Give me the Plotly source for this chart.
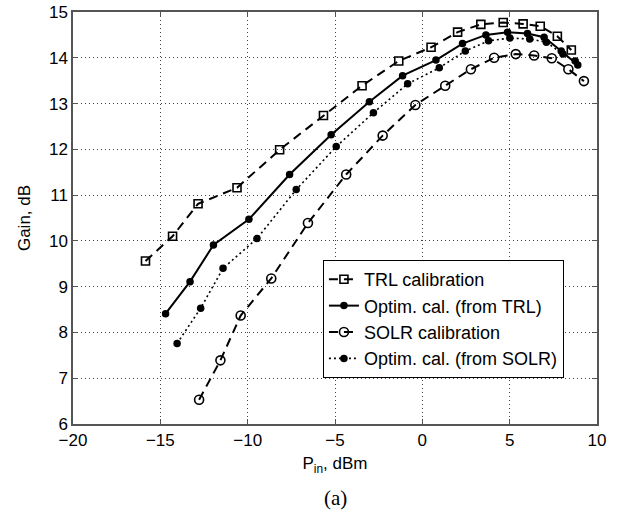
import plotly.graph_objects as go

# TRL calibration
trl_x = [-15.85, -14.3, -12.84, -10.61, -8.17, -5.66, -3.45, -1.35, 0.5, 2.02, 3.35, 4.63, 5.77, 6.75, 7.73, 8.53]
trl_y = [9.56, 10.10, 10.81, 11.16, 11.99, 12.74, 13.39, 13.93, 14.23, 14.56, 14.73, 14.77, 14.74, 14.69, 14.47, 14.17]

# Optim. cal. (from TRL)
otrl_x = [-14.7, -13.3, -11.96, -9.93, -7.6, -5.22, -3.03, -1.13, 0.78, 2.3, 3.64, 4.88, 6.02, 6.97, 7.95, 8.9]
otrl_y = [8.41, 9.11, 9.91, 10.47, 11.45, 12.32, 13.04, 13.61, 13.95, 14.31, 14.50, 14.56, 14.53, 14.45, 14.15, 13.84]

# SOLR calibration
solr_x = [-12.78, -11.56, -10.4, -8.65, -6.55, -4.36, -2.27, -0.4, 1.31, 2.78, 4.11, 5.35, 6.4, 7.41, 8.36, 9.25]
solr_y = [6.53, 7.39, 8.37, 9.18, 10.39, 11.45, 12.30, 12.97, 13.39, 13.75, 14.00, 14.08, 14.05, 13.99, 13.75, 13.49]

# Optim. cal. (from SOLR)
osolr_x = [-14.04, -12.69, -11.41, -9.47, -7.22, -4.93, -2.8, -0.84, 0.97, 2.46, 3.79, 5.01, 6.15, 7.1, 8.05, 8.75]
osolr_y = [7.76, 8.53, 9.40, 10.05, 11.12, 12.06, 12.80, 13.43, 13.78, 14.15, 14.37, 14.43, 14.41, 14.34, 14.08, 13.93]

x_ticks = [-20, -15, -10, -5, 0, 5, 10]
y_ticks = [6, 7, 8, 9, 10, 11, 12, 13, 14, 15]

FONT = "Liberation Sans, Arial, Helvetica, sans-serif"

fig = go.Figure()
fig.add_trace(go.Scatter(
    x=trl_x, y=trl_y, name="TRL calibration", mode="lines+markers",
    line=dict(color="black", width=2, dash="9px,6px"),
    marker=dict(symbol="square-open", size=8, color="black", line=dict(width=1.6)),
))
fig.add_trace(go.Scatter(
    x=otrl_x, y=otrl_y, name="Optim. cal. (from TRL)", mode="lines+markers",
    line=dict(color="black", width=2),
    marker=dict(symbol="circle", size=7.5, color="black"),
))
fig.add_trace(go.Scatter(
    x=solr_x, y=solr_y, name="SOLR calibration", mode="lines+markers",
    line=dict(color="black", width=2, dash="9px,6px"),
    marker=dict(symbol="circle-open", size=9, color="black", line=dict(width=1.6)),
))
fig.add_trace(go.Scatter(
    x=osolr_x, y=osolr_y, name="Optim. cal. (from SOLR)", mode="lines+markers",
    line=dict(color="black", width=1.6, dash="2px,3px"),
    marker=dict(symbol="circle", size=7.5, color="black"),
))

axis_common = dict(
    showline=True, linecolor="#555", linewidth=1.5, mirror="allticks",
    ticks="inside", ticklen=5, tickcolor="#555",
    showgrid=True, gridcolor="#444", griddash="1px,3px", gridwidth=1,
    zeroline=False, automargin=False,
    tickfont=dict(family=FONT, size=17, color="black"),
)

fig.update_xaxes(range=[-20, 10], tickvals=x_ticks, ticktext=[str(v).replace("-", "\u2212") for v in x_ticks],
                 title=dict(text="P<sub>in</sub>, dBm", font=dict(family=FONT, size=17, color="black"), standoff=8),
                 **axis_common)
fig.update_yaxes(range=[6, 15], tickvals=y_ticks,
                 title=dict(text="Gain, dB", font=dict(family=FONT, size=17, color="black"), standoff=14),
                 **axis_common)

fig.update_layout(
    width=620, height=516,
    margin=dict(l=73, r=23, t=12, b=92),
    plot_bgcolor="white", paper_bgcolor="white",
    font=dict(family=FONT, size=17, color="black"),
    legend=dict(x=0.477, y=0.398, xanchor="left", yanchor="top",
                bgcolor="white", bordercolor="black", borderwidth=1,
                font=dict(family=FONT, size=18, color="black"),
                tracegroupgap=0, itemwidth=30),
    showlegend=True,
    annotations=[dict(text="(a)", x=0.5, y=-0.18, xref="paper", yref="paper",
                      xanchor="center", yanchor="middle", showarrow=False,
                      font=dict(family="Liberation Serif, Times New Roman, serif", size=21, color="black"))],
)

fig.write_html("out.html", config={"displayModeBar": False},
               post_script="document.body.style.margin='0px';")
